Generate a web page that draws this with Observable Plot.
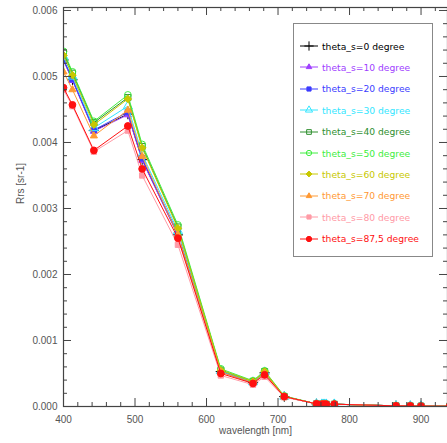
<!DOCTYPE html>
<html><head><meta charset="utf-8">
<script src="https://cdn.jsdelivr.net/npm/d3@7"></script>
<script src="https://cdn.jsdelivr.net/npm/@observablehq/plot@0.6"></script>
<style>
body{margin:0;background:#fff;}
#wrap{position:relative;width:447px;height:443px;overflow:hidden;font-family:"Liberation Sans",Arial,sans-serif;}
#legend{position:absolute;left:293px;top:23px;width:138px;height:232px;border:1.5px solid #888;background:#fff;}
.row{position:absolute;left:6px;height:14px;display:flex;align-items:center;font-family:"DejaVu Sans",sans-serif;font-size:9.2px;white-space:nowrap;}
.row svg{margin-right:4px;}
</style>
</head><body><div id="wrap"></div>
<script>
const wavelengths = [400, 412.5, 442.5, 490, 510, 560, 620, 665, 681.25, 708.75, 753.75, 761.25, 764.375, 767.5, 778.75, 865, 885, 900, 940, 1020];
const seriesNames = ["theta_s=0 degree","theta_s=10 degree","theta_s=20 degree","theta_s=30 degree","theta_s=40 degree","theta_s=50 degree","theta_s=60 degree","theta_s=70 degree","theta_s=80 degree","theta_s=87,5 degree"];
const seriesColors = ["#000000","#a040ff","#3c3cff","#33e6ff","#2f8f2f","#40ee40","#c8c800","#ff9933","#ff9aa6","#ff1010"];
const seriesSymbols = ["plus","triangle2","square2","triangle","square","circle","diamond2","triangle2","square2","circle2"];
const seriesFilled = [false,true,true,false,false,false,true,true,true,true];

const rrs_0    = [0.00525,0.00495,0.00418,0.00443,0.00374,0.00260,0.00053,0.00036,0.00051,0.00015,0.00004,0.000035,0.000035,0.000035,0.000035,0.00001,0.000008,0.000006,0.000004,0.000002];
const rrs_10   = [0.00524,0.00494,0.00417,0.00442,0.00373,0.00259,0.00053,0.00036,0.00051,0.00015,0.00004,0.000035,0.000035,0.000035,0.000035,0.00001,0.000008,0.000006,0.000004,0.000002];
const rrs_20   = [0.00526,0.00496,0.00419,0.00446,0.00376,0.00262,0.00053,0.00036,0.00051,0.00015,0.00004,0.000035,0.000035,0.000035,0.000035,0.00001,0.000008,0.000006,0.000004,0.000002];
const rrs_30   = [0.00530,0.00500,0.00422,0.00455,0.00382,0.00266,0.00054,0.00037,0.00052,0.00015,0.00004,0.000035,0.000035,0.000035,0.000035,0.00001,0.000008,0.000006,0.000004,0.000002];
const rrs_40   = [0.00536,0.00505,0.00430,0.00468,0.00394,0.00272,0.00055,0.00038,0.00053,0.00015,0.00004,0.000035,0.000035,0.000035,0.000035,0.00001,0.000008,0.000006,0.000004,0.000002];
const rrs_50   = [0.00538,0.00507,0.00432,0.00472,0.00397,0.00275,0.00057,0.00039,0.00054,0.00016,0.00004,0.000035,0.000035,0.000035,0.000035,0.00001,0.000008,0.000006,0.000004,0.000002];
const rrs_60   = [0.00532,0.00502,0.00427,0.00466,0.00392,0.00270,0.00055,0.00038,0.00053,0.00015,0.00004,0.000035,0.000035,0.000035,0.000035,0.00001,0.000008,0.000006,0.000004,0.000002];
const rrs_70   = [0.00507,0.00480,0.00410,0.00449,0.00379,0.00260,0.00052,0.00036,0.00050,0.00015,0.00004,0.000035,0.000035,0.000035,0.000035,0.00001,0.000008,0.000006,0.000004,0.000002];
const rrs_80   = [0.00480,0.00455,0.00386,0.00418,0.00350,0.00245,0.00047,0.00033,0.00045,0.00014,0.00004,0.000035,0.000035,0.000035,0.000035,0.00001,0.000008,0.000006,0.000004,0.000002];
const rrs_87_5 = [0.00483,0.00457,0.00388,0.00425,0.00360,0.00255,0.00050,0.00035,0.00048,0.00015,0.00004,0.000035,0.000035,0.000035,0.000035,0.00001,0.000008,0.000006,0.000004,0.000002];
const seriesValues = [rrs_0,rrs_10,rrs_20,rrs_30,rrs_40,rrs_50,rrs_60,rrs_70,rrs_80,rrs_87_5];

const xTickLabels = [400, 500, 600, 700, 800, 900];
const yTickLabels = [0, 0.001, 0.002, 0.003, 0.004, 0.005, 0.006];
const xMinorTicks = d3.range(400, 940, 20).filter(v => v % 100 !== 0);
const yMinorTicks = d3.range(0, 0.00605, 0.0002).filter(v => Math.abs(v*1000 - Math.round(v*1000)) > 1e-6);
const xLabel = "wavelength [nm]";
const yLabel = "Rrs [sr-1]";

const W = 447, H = 443, mt = 7, mb = 37, ml = 63, mr = 0;
const fh = H - mt - mb, fw = W - ml - mr;
const axisColor = "#444";

const marks = [];
seriesValues.forEach((vals, i) => {
  const data = wavelengths.map((w, j) => ({w, v: vals[j]}));
  marks.push(Plot.line(data, {x: "w", y: "v", stroke: seriesColors[i], strokeWidth: 1, clip: true}));
  marks.push(Plot.dot(data, {x: "w", y: "v", symbol: () => seriesSymbols[i], r: 3.4,
    fill: seriesFilled[i] ? seriesColors[i] : "none",
    stroke: seriesColors[i], strokeWidth: 1, clip: true}));
});

// inward ticks
const tickStyle = {stroke: axisColor, strokeWidth: 1};
marks.push(Plot.ruleX(xTickLabels, {x: d => d, insetTop: fh - 8, ...tickStyle}));
marks.push(Plot.ruleX(xMinorTicks, {x: d => d, insetTop: fh - 4, ...tickStyle}));
marks.push(Plot.ruleX(xTickLabels, {x: d => d, insetBottom: fh - 8, ...tickStyle}));
marks.push(Plot.ruleX(xMinorTicks, {x: d => d, insetBottom: fh - 4, ...tickStyle}));
marks.push(Plot.ruleY(yTickLabels, {y: d => d, insetRight: fw - 8, ...tickStyle}));
marks.push(Plot.ruleY(yMinorTicks, {y: d => d, insetRight: fw - 4, ...tickStyle}));
marks.push(Plot.ruleY(yTickLabels, {y: d => d, insetLeft: fw - 8, ...tickStyle}));
marks.push(Plot.ruleY(yMinorTicks, {y: d => d, insetLeft: fw - 4, ...tickStyle}));
marks.push(Plot.frame({stroke: axisColor, strokeWidth: 1.2}));
marks.push(Plot.axisX(xTickLabels, {tickSize: 0, tickPadding: 9, tickFormat: d => String(d), label: null, fill: "#555", fontSize: 10}));
marks.push(Plot.axisY(yTickLabels, {tickSize: 0, tickPadding: 6, tickFormat: d3.format(".3f"), label: null, fill: "#555", fontSize: 10}));
marks.push(Plot.text([xLabel], {text: d => d, frameAnchor: "bottom", dy: 27, fill: "#555", fontSize: 10}));
marks.push(Plot.text([yLabel], {text: d => d, frameAnchor: "left", dx: -43, dy: -3, rotate: -90, fill: "#555", fontSize: 10}));

const chart = Plot.plot({
  width: W, height: H,
  marginTop: mt, marginBottom: mb, marginLeft: ml, marginRight: mr,
  style: {fontFamily: "Liberation Sans, Arial, sans-serif", background: "#fff"},
  x: {domain: [400, 937]},
  y: {domain: [0, 0.006045]},
  marks
});
const wrap = document.getElementById("wrap");
wrap.appendChild(chart);

// legend overlay
const legend = document.createElement("div");
legend.id = "legend";
wrap.appendChild(legend);
const symMap = {plus: d3.symbolPlus, triangle2: d3.symbolTriangle2, square2: d3.symbolSquare2, triangle: d3.symbolTriangle,
  square: d3.symbolSquare, circle: d3.symbolCircle, diamond2: d3.symbolDiamond2, circle2: d3.symbolCircle};
seriesNames.forEach((name, i) => {
  const row = document.createElement("div");
  row.className = "row";
  row.style.top = (15 + i * 21.4) + "px";
  const svg = d3.create("svg").attr("width", 18).attr("height", 12);
  svg.append("line").attr("x1", 0).attr("x2", 18).attr("y1", 6).attr("y2", 6).attr("stroke", seriesColors[i]).attr("stroke-width", 1);
  svg.append("path").attr("transform", "translate(9,6)")
    .attr("d", d3.symbol(symMap[seriesSymbols[i]], i === 0 ? 30 : 22)())
    .attr("fill", seriesFilled[i] ? seriesColors[i] : "none")
    .attr("stroke", seriesColors[i]).attr("stroke-width", 1);
  row.appendChild(svg.node());
  const span = document.createElement("span");
  span.textContent = name;
  span.style.color = seriesColors[i];
  row.appendChild(span);
  legend.appendChild(row);
});
</script>
</body></html>
